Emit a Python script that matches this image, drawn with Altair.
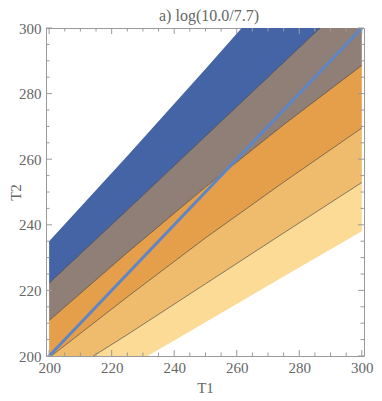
import altair as alt
import pandas as pd

# ---- data ----
T1_grid = [200, 225, 250, 275, 300]
# contour boundaries T2(T1), from upper-left to lower-right
B0 = [235.0, 261.0, 287.5, 314.5, 341.0]   # white / blue edge
B1 = [222.2, 244.5, 267.0, 289.5, 312.0]   # blue / brown
B2 = [210.8, 231.5, 251.5, 270.5, 288.6]   # brown / orange
B3 = [199.5, 218.0, 236.0, 253.0, 269.5]   # orange / light orange
B4 = [191.5, 206.5, 222.0, 237.5, 252.9]   # light orange / pale
B5 = [182.5, 196.4, 210.3, 224.2, 238.0]   # pale / white edge

bands = ["b1", "b2", "b3", "b4", "b5"]
band_colors = ["#4564A6", "#8F7F76", "#E59E4A", "#EFBB6C", "#FBDB96"]

diag_T1 = [200, 300]
diag_T2 = [200, 300]

major_ticks = [200, 220, 240, 260, 280, 300]
minor_ticks = [205, 210, 215, 225, 230, 235, 245, 250, 255, 265, 270, 275, 285, 290, 295]

title_text = "a) log(10.0/7.7)"

W, H = 318, 328
FONT = "Liberation Serif"
GRAY = "#666666"
FRAME = "#9a9a9a"

bounds = [B0, B1, B2, B3, B4, B5]
rows = []
for i, b in enumerate(bands):
    for j, t in enumerate(T1_grid):
        rows.append({"T1": t, "band": b, "lo": bounds[i + 1][j], "hi": bounds[i][j]})
area_df = pd.DataFrame(rows)

lrows = []
for k, name in [(1, "c1"), (2, "c2"), (3, "c3"), (4, "c4")]:
    for j, t in enumerate(T1_grid):
        lrows.append({"T1": t, "line": name, "T2": bounds[k][j]})
line_df = pd.DataFrame(lrows)

diag_df = pd.DataFrame({"T1": diag_T1, "T2": diag_T2})

xs = alt.Scale(domain=[199, 300.7], nice=False, zero=False)
ys = alt.Scale(domain=[200, 300], nice=False, zero=False)
xax = alt.Axis(values=major_ticks, ticks=False, domain=False, grid=False, labelFlush=False,
               labelFont=FONT, labelFontSize=15, labelColor=GRAY, labelPadding=4,
               title="T1", titleFont=FONT, titleFontSize=15, titleFontWeight="normal",
               titleColor=GRAY, titlePadding=5)
yax = alt.Axis(values=major_ticks, ticks=False, domain=False, grid=False, labelFlush=False,
               labelFont=FONT, labelFontSize=15, labelColor=GRAY, labelPadding=5,
               title="T2", titleFont=FONT, titleFontSize=15, titleFontWeight="normal",
               titleColor=GRAY, titleX=-31, titleY=H / 2, titleAngle=-90,
               titleBaseline="middle", titleAlign="center")

areas = alt.Chart(area_df).mark_area(clip=True, opacity=1).encode(
    x=alt.X("T1:Q", scale=xs, axis=xax),
    y=alt.Y("lo:Q", scale=ys, axis=yax),
    y2="hi:Q",
    color=alt.Color("band:N", scale=alt.Scale(domain=bands, range=band_colors), legend=None),
)

lines = alt.Chart(line_df).mark_line(clip=True, color="#222222", opacity=0.6, strokeWidth=0.9).encode(
    x=alt.X("T1:Q", scale=xs, axis=xax),
    y=alt.Y("T2:Q", scale=ys, axis=yax),
    detail="line:N",
)

diag = alt.Chart(diag_df).mark_line(clip=True, color="#5E86C6", strokeWidth=3).encode(
    x=alt.X("T1:Q", scale=xs, axis=xax),
    y=alt.Y("T2:Q", scale=ys, axis=yax),
)

maj_df = pd.DataFrame({"v": major_ticks})
min_df = pd.DataFrame({"v": minor_ticks})

def tick_layers(df, size):
    base = alt.Chart(df).mark_rule(color=FRAME, strokeWidth=1)
    return [
        base.encode(x=alt.X("v:Q", scale=xs, axis=xax), y=alt.value(H), y2=alt.value(H - size)),
        base.encode(x=alt.X("v:Q", scale=xs, axis=xax), y=alt.value(0), y2=alt.value(size)),
        base.encode(y=alt.Y("v:Q", scale=ys, axis=yax), x=alt.value(0), x2=alt.value(size)),
        base.encode(y=alt.Y("v:Q", scale=ys, axis=yax), x=alt.value(W), x2=alt.value(W - size)),
    ]

title_df = pd.DataFrame({"t": [title_text]})
title_mark = alt.Chart(title_df).mark_text(
    font=FONT, fontSize=16, color=GRAY, align="center", baseline="middle"
).encode(x=alt.value(W / 2 + 4), y=alt.value(-12), text="t:N")

layers = [areas, lines, diag] + tick_layers(maj_df, 6) + tick_layers(min_df, 3.5) + [title_mark]

chart = alt.layer(*layers).properties(
    width=W, height=H,
    autosize=alt.AutoSizeParams(type="none"),
    padding={"left": 38, "top": 20, "right": 10, "bottom": 42},
).configure_view(stroke=FRAME, strokeWidth=1)

chart.save("out.html", embed_options={"renderer": "svg", "actions": False})
